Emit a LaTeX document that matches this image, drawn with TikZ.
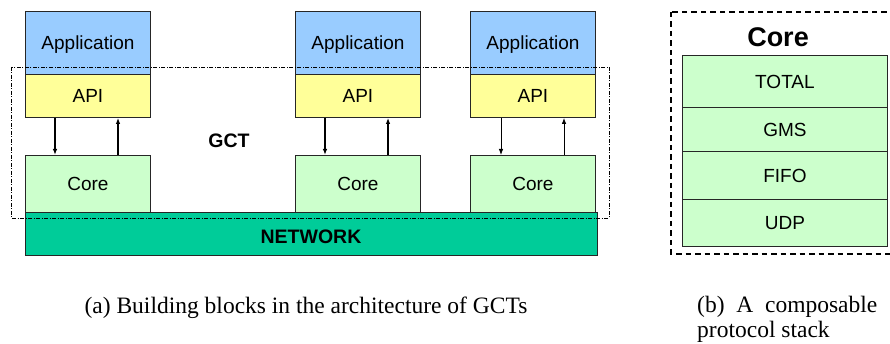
\documentclass[tikz,border=0pt]{standalone}
\usepackage{fontspec}
\setmainfont{Liberation Sans}
\newfontfamily\capfont{Liberation Serif}
\usetikzlibrary{arrows.meta,positioning,calc}
\definecolor{appblue}{HTML}{99CCFF}
\definecolor{apiyellow}{HTML}{FFFF99}
\definecolor{coregreen}{HTML}{CCFFCC}
\definecolor{netgreen}{HTML}{00CC99}
\tikzset{
  blk/.style={draw=black!85,line width=0.9pt,inner sep=0pt,anchor=north west,text depth=0pt,font=\fontsize{19}{22}\selectfont},
  appblk/.style={blk,fill=appblue,minimum width=125pt,minimum height=63pt},
  apiblk/.style={blk,fill=apiyellow,minimum width=125pt,minimum height=43pt},
  coreblk/.style={blk,fill=coregreen,minimum width=125pt,minimum height=57pt},
  layblk/.style={blk,fill=coregreen,minimum width=205pt},
  callarc/.style={-{Latex[length=6pt,width=4.5pt]},line width=1.6pt},
  thinarc/.style={-{Latex[length=6pt,width=4.5pt]},line width=0.8pt},
  boldlab/.style={font=\fontsize{19.5}{22}\selectfont\bfseries},
  caplab/.style={font=\capfont\fontsize{23.5}{25}\selectfont,inner sep=0pt}
}
\begin{document}
\begin{tikzpicture}[x=1pt,y=-1pt]
  \clip (0,0) rectangle (890,344);
  % network
  \node[blk,fill=netgreen,minimum width=572pt,minimum height=43pt] (net) at (25,212) {};
  \node[boldlab] (netlab) at (311,237) {NETWORK};
  % three stacks
  \foreach \i/\x in {1/25,2/295,3/470}{
    \node[appblk] (app\i) at (\x,11) {Application};
    \node[apiblk] (api\i) at (\x,74) {API};
    \node[coreblk] (core\i) at (\x,155) {Core};
  }
  \foreach \i in {1,2}{
    \draw[callarc] ([xshift=30pt]api\i.south west) -- ([xshift=30pt]core\i.north west);
    \draw[callarc] ([xshift=93pt]core\i.north west) -- ([xshift=93pt]api\i.south west);
  }
  \draw[thinarc] ([xshift=31pt]api3.south west) -- ([xshift=31pt]core3.north west);
  \draw[thinarc] ([xshift=94pt]core3.north west) -- ([xshift=94pt]api3.south west);
  \node[boldlab] (gct) at (229,141) {GCT};
  % GCT boundary
  \draw[line width=0.9pt,dash pattern=on 4pt off 1.5pt on 1pt off 1.5pt] (11,67) rectangle (609,218);
  % protocol stack
  \draw[line width=1.4pt,dash pattern=on 5.5pt off 4pt] (671,12) rectangle (893,254);
  \node[font=\fontsize{27}{30}\selectfont\bfseries] (corehead) at (778,37) {Core};
  \node[layblk,minimum height=52pt] (total) at (682,55) {TOTAL};
  \node[layblk,minimum height=44pt] (gms) at (682,107) {GMS};
  \node[layblk,minimum height=48pt] (fifo) at (682,151) {FIFO};
  \node[layblk,minimum height=47pt] (udp) at (682,199) {UDP};
  % captions
  \node[caplab,anchor=base] (capa) at (306,313) {(a) Building blocks in the architecture of GCTs};
  \node[caplab,anchor=base west,align=left] (capb) at (697,337) {(b)\ \ A\ \ composable\\protocol stack};
\end{tikzpicture}
\end{document}
